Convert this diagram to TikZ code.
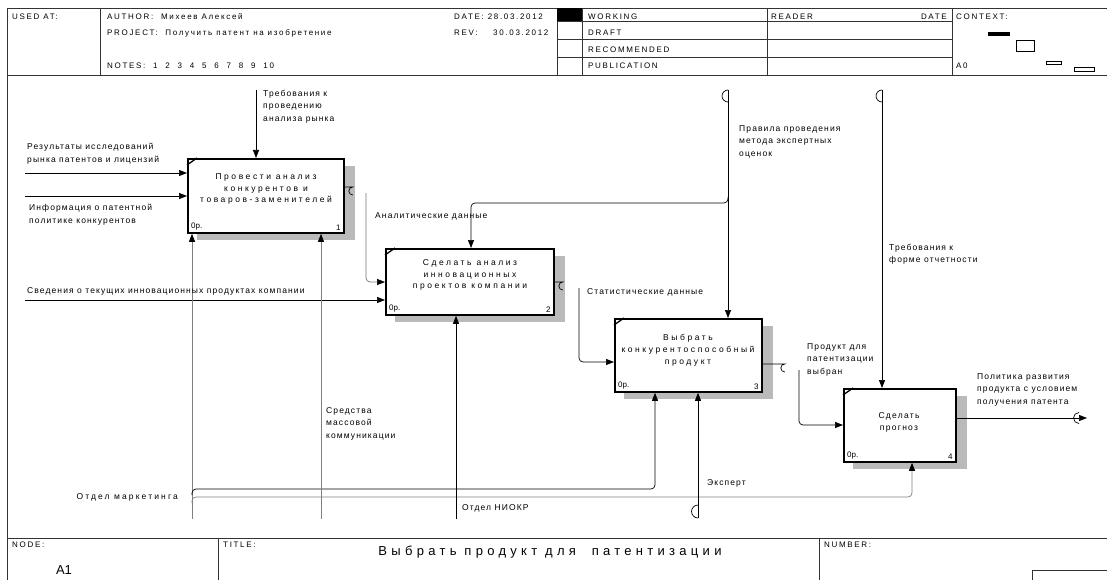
\documentclass[tikz,border=0pt]{standalone}
\usepackage{fontspec}
\setmainfont{Liberation Sans}
\usetikzlibrary{arrows.meta}

\begin{document}
\begin{tikzpicture}[x=1pt,y=-1pt,
  frm/.style={line width=0.9pt, black!80},
  hdr/.style={font=\fontsize{8}{9.5}\selectfont\addfontfeatures{LetterSpace=21}, anchor=west, inner sep=0pt},
  lbl/.style={font=\fontsize{8.5}{12.5}\selectfont\addfontfeatures{LetterSpace=13}, align=left, anchor=north west, inner sep=0pt},
  fnbox/.style={draw, line width=1.8pt, fill=white, inner sep=0pt, anchor=north west},
  btxt/.style={font=\fontsize{8.5}{11.8}\selectfont\addfontfeatures{LetterSpace=30}, align=center, inner sep=0pt},
  btxtn/.style={font=\fontsize{8.5}{12}\selectfont\addfontfeatures{LetterSpace=15}, align=center, inner sep=0pt},
  corner/.style={font=\fontsize{8}{9}\selectfont, inner sep=0pt},
  shadowbox/.style={fill=black!27},
  link/.style={line width=0.7pt},
  arr/.style={link, -{Triangle[length=8pt,width=6pt,color=black]}},
  mech/.style={arr, draw=black!50},
  tun/.style={line width=0.7pt},
]
\useasboundingbox (0,0) rectangle (1107,580);

% ---------- frame and header ----------
\draw[frm] (7,8.5) -- (1107,8.5);
\draw[frm] (7,8.5) -- (7,580);
\draw[frm] (7,75.5) -- (1107,75.5);
\foreach \x in {100,557,582,767,952} \draw[frm] (\x,8.5) -- (\x,75.5);
\foreach \y in {21.5,39.5,57.5} \draw[frm] (557,\y) -- (952,\y);
\fill (557,8.5) rectangle (582,21.5);

\node[hdr] (usedat) at (12,16.5) {USED AT:};
\node[hdr] (author) at (107,16.5) {AUTHOR:\ \ Михеев Алексей};
\node[hdr] (project) at (107,33) {PROJECT:\ \ Получить патент на изобретение};
\node[hdr] (notes) at (107,66) {NOTES:\ \ 1~~2~~3~~4~~5~~6~~7~~8~~9~~10};
\node[hdr] (date) at (454,16.5) {DATE:\ 28.03.2012};
\node[hdr] (rev) at (454,33) {REV:\ \ \ \ 30.03.2012};
\node[hdr] (working) at (588,16.5) {WORKING};
\node[hdr] (draft) at (588,33) {DRAFT};
\node[hdr] (recom) at (588,50) {RECOMMENDED};
\node[hdr] (publ) at (588,66) {PUBLICATION};
\node[hdr] (reader) at (771,16.5) {READER};
\node[hdr, anchor=east] (rdate) at (947,16.5) {DATE};
\node[hdr] (context) at (956,16.5) {CONTEXT:};
\node[hdr] (a0) at (956,66) {A0};

% context thumbnails
\fill (988,32) rectangle (1010,36);
\draw[line width=0.7pt] (1016,40.5) rectangle (1034,51.5);
\draw[line width=0.7pt] (1046,61) rectangle (1061,64.5);
\draw[line width=0.7pt] (1074,67.5) rectangle (1094,71.5);

% ---------- footer ----------
\draw[frm] (7,538) -- (1107,538);
\draw[frm] (218,538) -- (218,580);
\draw[frm] (819,538) -- (819,580);
\draw[frm] (1032,580) -- (1032,570) -- (1107,570);
\node[hdr] (nodelbl) at (12,545) {NODE:};
\node[hdr] (titlelbl) at (223,545) {TITLE:};
\node[hdr] (numlbl) at (824,545) {NUMBER:};
\node[font=\fontsize{13}{15}\selectfont, inner sep=0pt] (nodeid) at (64,570) {A1};
\node[font=\fontsize{13}{15}\selectfont\addfontfeatures{LetterSpace=33}, inner sep=0pt] (title) at (550,552) {Выбрать продукт для\ \ патентизации};

% ---------- activity boxes ----------
\fill[shadowbox] (197,166) rectangle (355,240);
\node[fnbox, minimum width=156pt, minimum height=74pt] (b1) at (187,158) {};
\fill[shadowbox] (395,256) rectangle (565,322);
\node[fnbox, minimum width=168pt, minimum height=66pt] (b2) at (385,248) {};
\fill[shadowbox] (624,326) rectangle (773,399);
\node[fnbox, minimum width=147pt, minimum height=73pt] (b3) at (614,318) {};
\fill[shadowbox] (853,396) rectangle (967,469);
\node[fnbox, minimum width=112pt, minimum height=73pt] (b4) at (843,388) {};

\foreach \b/\n in {b1/1,b2/2,b3/3,b4/4}{
  \draw[line width=1.3pt] ([yshift=-7pt]\b.north west) -- ([xshift=10pt]\b.north west);
  \node[corner, anchor=south west] at ([shift={(4pt,3pt)}]\b.south west) {0р.};
  \node[corner, anchor=south east] at ([shift={(-4pt,3pt)}]\b.south east) {\n};
}

\node[btxt] (b1t) at (266,189) {Провести анализ\\конкурентов и\\товаров-заменителей};
\node[btxt] (b2t) at (470,275) {Сделать анализ\\инновационных\\проектов компании};
\node[btxt] (b3t) at (688,350) {Выбрать\\конкурентоспособный\\продукт};
\node[btxtn] (b4t) at (899,422) {Сделать\\прогноз};

% ---------- inputs ----------
\coordinate (in1) at (25,173);
\coordinate (in2) at (25,196);
\coordinate (in3) at (25,300);
\draw[arr] (in1) -- (in1 -| b1.west);
\draw[arr] (in2) -- (in2 -| b1.west);
\draw[arr] (in3) -- (in3 -| b2.west);

% ---------- controls ----------
\coordinate (ctl1) at (256,90);
\draw[arr] (ctl1) -- (ctl1 |- b1.north);
\coordinate (ctl2) at (728,90);
\draw[tun] (ctl2) arc[start angle=90, end angle=270, radius=6pt];
\draw[arr] (ctl2) -- (ctl2 |- b3.north);
\draw[arr, rounded corners=4pt] (728,197) -- (728,203) -- (471,203) -- (471,248 |- b2.north);
\coordinate (ctl3) at (882,90);
\draw[tun] (ctl3) arc[start angle=90, end angle=270, radius=6pt];
\draw[arr] (ctl3) -- (ctl3 |- b4.north);

% ---------- box-to-box flows ----------
\draw[link] (b1.east |- 0,187) -- ++(8,0) arc[start angle=90, end angle=270, radius=4pt];
\draw[arr, draw=black!55, rounded corners=4pt] (366,193) -- (366,282) -- (366,282 -| b2.west);
\draw[link] (b2.east |- 0,282) -- ++(8,0) arc[start angle=90, end angle=270, radius=4pt];
\draw[arr, rounded corners=4pt] (579,288) -- (579,362) -- (579,362 -| b3.west);
\draw[link] (b3.east |- 0,364) -- ++(22,0) arc[start angle=90, end angle=270, radius=4pt];
\draw[arr, rounded corners=4pt] (799,370) -- (799,425) -- (799,425 -| b4.west);

% ---------- output ----------
\coordinate (out4) at (1087,418);
\draw[arr] (b4.east |- out4) -- (out4);
\draw[tun] (1079,412.5) arc[start angle=90, end angle=270, radius=5.5pt];

% ---------- mechanisms ----------
\coordinate (m1) at (192,519);
\draw[mech] (m1) -- (m1 |- b1.south);
\draw[arr, rounded corners=4pt] (192,495) -- (192,489) -- (655,489) -- (655,489 |- b3.south);
\draw[mech, rounded corners=4pt] (192,503) -- (192,497) -- (912,497) -- (912,497 |- b4.south);
\coordinate (m2) at (321,519);
\draw[mech] (m2) -- (m2 |- b1.south);
\coordinate (m3) at (456,519);
\draw[arr] (m3) -- (m3 |- b2.south);
\coordinate (m4) at (698,518);
\draw[tun] (698,505) arc[start angle=90, end angle=270, radius=6.5pt];
\draw[arr] (m4) -- (m4 |- b3.south);

% ---------- arrow labels ----------
\node[lbl] (l1) at (263,90) {Требования к\\проведению\\анализа рынка};
\node[lbl] (l2) at (27,143) {Результаты исследований\\рынка патентов и лицензий};
\node[lbl] (l3) at (29,204) {Информация о патентной\\политике конкурентов};
\node[lbl] (l4) at (375,212) {Аналитические данные};
\node[lbl] (l5) at (27,287) {Сведения о текущих инновационных продуктах компании};
\node[lbl] (l6) at (739,125) {Правила проведения\\метода экспертных\\оценок};
\node[lbl] (l7) at (587,288) {Статистические данные};
\node[lbl] (l8) at (889,244) {Требования к\\форме отчетности};
\node[lbl] (l9) at (807,343) {Продукт для\\патентизации\\выбран};
\node[lbl] (l10) at (977,373) {Политика развития\\продукта с условием\\получения патента};
\node[lbl] (l11) at (326,407) {Средства\\массовой\\коммуникации};
\node[lbl, anchor=north east, font=\fontsize{8.5}{12.5}\selectfont\addfontfeatures{LetterSpace=25}] (l12) at (178,493) {Отдел маркетинга};
\node[lbl] (l13) at (462,504) {Отдел НИОКР};
\node[lbl] (l14) at (707,479) {Эксперт};
\end{tikzpicture}
\end{document}
